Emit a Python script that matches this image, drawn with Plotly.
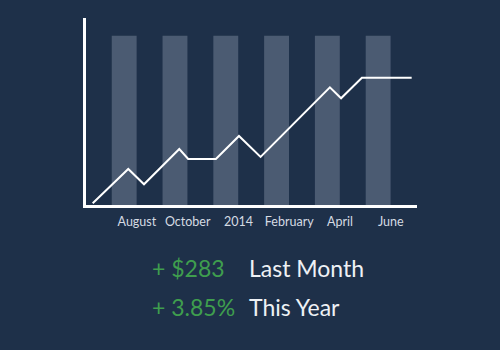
import plotly.graph_objects as go

# Data
bar_x = [1, 3, 5, 7, 9, 11]
bar_h = [90.6, 90.6, 90.6, 90.6, 90.6, 90.6]
line_x = [-0.24, 1.16, 1.78, 3.17, 3.52, 4.61, 5.52, 6.37, 9.10, 9.54, 10.36, 12.32]
line_y = [2.0, 20.1, 12.0, 30.7, 25.4, 25.4, 37.6, 26.5, 63.3, 57.5, 68.4, 68.4]
tick_vals = [1.5, 3.5, 5.5, 7.5, 9.5, 11.5]
tick_text = ["August", "October", "2014", "February", "April", "June"]
stat_values = ["+ $283", "+ 3.85%"]
stat_labels = ["Last Month", "This Year"]

BG = "#1e3049"
fig = go.Figure()
fig.add_trace(go.Bar(x=bar_x, y=bar_h, width=0.98, marker=dict(color="#4b5b72", line=dict(width=0)),
                     hoverinfo="skip"))
fig.add_trace(go.Scatter(x=line_x, y=line_y, mode="lines", line=dict(color="white", width=2),
                         hoverinfo="skip"))

fig.update_layout(
    width=500, height=350, paper_bgcolor=BG, plot_bgcolor=BG,
    margin=dict(l=86, r=83, t=18, b=145), showlegend=False,
    font=dict(family="Lato", color="#d5dbe3"),
    xaxis=dict(range=[-0.504, 12.53], showgrid=False, zeroline=False, showline=True,
               linecolor="white", linewidth=3, tickvals=tick_vals, ticktext=tick_text,
               ticks="", ticklabelstandoff=3, tickfont=dict(size=12.5, color="#d5dbe3"),
               fixedrange=True),
    yaxis=dict(range=[1.06, 100], showgrid=False, zeroline=False, showline=True,
               linecolor="white", linewidth=3, showticklabels=False, ticks="", fixedrange=True),
)

rows_y = [-0.337, -0.545]
for i in range(2):
    fig.add_annotation(x=0.193, y=rows_y[i], xref="paper", yref="paper", xanchor="left",
                       yanchor="middle", text=stat_values[i], showarrow=False,
                       font=dict(family="Lato", size=23, color="#3f9e4e"))
    fig.add_annotation(x=0.487, y=rows_y[i], xref="paper", yref="paper", xanchor="left",
                       yanchor="middle", text=stat_labels[i], showarrow=False,
                       font=dict(family="Lato", size=23, color="#eef1f5"))

fig.write_html("out.html")
